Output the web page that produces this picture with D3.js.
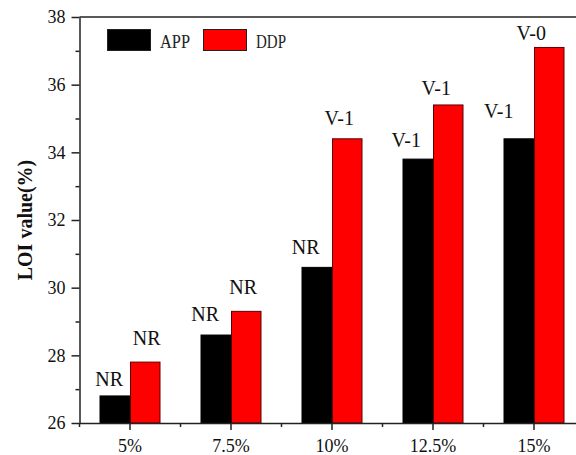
<!DOCTYPE html>
<html>
<head>
<meta charset="utf-8">
<script src="https://cdn.jsdelivr.net/npm/d3@7"></script>
<style>
  html, body { margin: 0; padding: 0; background: #fff; }
  svg { display: block; font-family: "Liberation Serif", "Times New Roman", serif; }
</style>
</head>
<body>
<svg id="chart" width="576" height="455"></svg>
<script>
// Flame-retardant loading levels
const categories = ["5%", "7.5%", "10%", "12.5%", "15%"];
const seriesNames = ["APP", "DDP"];
// LOI values (%)
const appValues = [26.8, 28.6, 30.6, 33.8, 34.4];
const ddpValues = [27.8, 29.3, 34.4, 35.4, 37.1];
// UL-94 ratings shown above each bar
const appRatings = ["NR", "NR", "NR", "V-1", "V-1"];
const ddpRatings = ["NR", "NR", "V-1", "V-1", "V-0"];
const yMajorTicks = [26, 28, 30, 32, 34, 36, 38];
const yMinorTicks = [27, 29, 31, 33, 35, 37];

// Layout
const W = 576, H = 455;
const plotLeft = 79.5, plotTop = 17, plotBottom = 423;
const colors = { APP: "#000000", DDP: "#ff0000" };
const strokes = { APP: "#000000", DDP: "#5a0000" };
// hand-placed nudges of the rating labels: [dx, gap above bar]
const labelShift = {
  APP: [[-5.5, 10], [-10.5, 14], [-11, 13.5], [-11.5, 12.5], [-20, 21]],
  DDP: [[1.5, 17], [-3, 17], [-8, 14], [-12, 9.5], [-18, 7]]
};

const svg = d3.select("#chart");

const x0 = d3.scaleBand().domain(categories).range([plotLeft, plotLeft + 505]).paddingInner(0).paddingOuter(0);
const x1 = d3.scaleBand().domain(seriesNames).range([-30.5, 30.5]).padding(0);
const y = d3.scaleLinear().domain([26, 38]).range([plotBottom, plotTop]);

const rows = categories.map((c, i) => ({
  cat: c,
  vals: [
    { s: "APP", v: appValues[i], r: appRatings[i], k: i },
    { s: "DDP", v: ddpValues[i], r: ddpRatings[i], k: i }
  ]
}));

// Bars
const groups = svg.append("g").selectAll("g").data(rows).join("g")
  .attr("transform", d => `translate(${x0(d.cat) + x0.bandwidth() / 2},0)`);

groups.selectAll("rect").data(d => d.vals).join("rect")
  .attr("x", d => x1(d.s) + 0.5)
  .attr("y", d => y(d.v))
  .attr("width", x1.bandwidth() - 1)
  .attr("height", d => y(26) - y(d.v))
  .attr("fill", d => colors[d.s])
  .attr("stroke", d => strokes[d.s])
  .attr("stroke-width", 1);

// Rating labels
groups.selectAll("text").data(d => d.vals).join("text")
  .attr("x", d => x1(d.s) + x1.bandwidth() / 2 + labelShift[d.s][d.k][0])
  .attr("y", d => y(d.v) - labelShift[d.s][d.k][1])
  .attr("text-anchor", "middle")
  .attr("font-size", 20)
  .attr("fill", "#111")
  .text(d => d.r);

// Y axis
const yAxis = svg.append("g").attr("transform", `translate(${plotLeft},0)`)
  .call(d3.axisLeft(y).tickValues(yMajorTicks).tickSize(8).tickSizeOuter(0).tickPadding(6).tickFormat(d3.format("d")));
yAxis.selectAll("text").attr("font-size", 18).attr("fill", "#111").attr("font-family", "Liberation Serif, Times New Roman, serif");
svg.append("g").attr("transform", `translate(${plotLeft},0)`)
  .call(d3.axisLeft(y).tickValues(yMinorTicks).tickSize(4).tickSizeOuter(0).tickFormat(""))
  .select(".domain").remove();

// X axis
const xAxis = svg.append("g").attr("transform", `translate(0,${plotBottom})`)
  .call(d3.axisBottom(x0).tickSize(7).tickSizeOuter(0).tickPadding(9));
xAxis.selectAll("text").attr("font-size", 18).attr("fill", "#111").attr("font-family", "Liberation Serif, Times New Roman, serif");
// minor ticks on band edges
const edges = categories.map(c => x0(c)).concat([x0.range()[1]]);
svg.append("g").selectAll("line").data(edges).join("line")
  .attr("x1", d => d).attr("x2", d => d)
  .attr("y1", plotBottom).attr("y2", plotBottom + 4)
  .attr("stroke", "#222").attr("stroke-width", 1.5);

svg.selectAll(".domain").attr("stroke", "#222").attr("stroke-width", 1.5);
svg.selectAll(".tick line").attr("stroke", "#222").attr("stroke-width", 1.5);

// Top frame line
svg.append("line")
  .attr("x1", plotLeft).attr("x2", W)
  .attr("y1", plotTop).attr("y2", plotTop)
  .attr("stroke", "#222").attr("stroke-width", 1.5);

// Y axis title
svg.append("text")
  .attr("transform", `translate(32,${(plotTop + plotBottom) / 2}) rotate(-90)`)
  .attr("text-anchor", "middle")
  .attr("font-size", 20)
  .attr("font-weight", "bold")
  .attr("fill", "#111")
  .text("LOI value(%)");

// Legend
const legend = svg.append("g");
const legendItems = [
  { s: "APP", rx: 107.5, tx: 160 },
  { s: "DDP", rx: 203.5, tx: 256 }
];
legendItems.forEach(it => {
  legend.append("rect")
    .attr("x", it.rx).attr("y", 29.5)
    .attr("width", 43).attr("height", 21)
    .attr("fill", colors[it.s])
    .attr("stroke", "#222").attr("stroke-width", 1);
  legend.append("text")
    .attr("x", it.tx).attr("y", 48)
    .attr("font-size", 19)
    .attr("textLength", 30)
    .attr("lengthAdjust", "spacingAndGlyphs")
    .attr("fill", "#222")
    .text(it.s);
});
</script>
</body>
</html>
